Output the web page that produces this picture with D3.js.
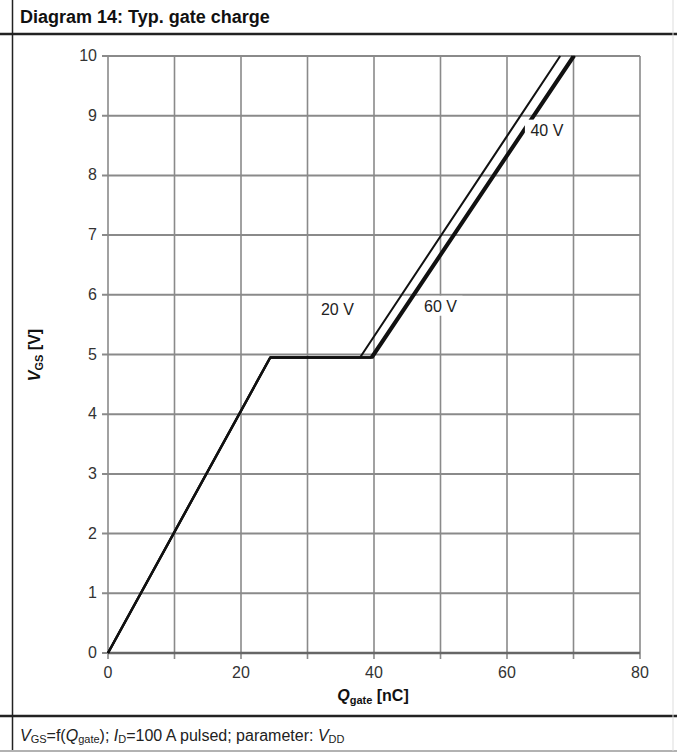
<!DOCTYPE html>
<html>
<head>
<meta charset="utf-8">
<script src="https://cdn.jsdelivr.net/npm/d3@7"></script>
<style>
  body { margin: 0; background: #fff; }
  svg { display: block; font-family: "Liberation Sans", Arial, sans-serif; }
</style>
</head>
<body>
<script>
//
// DATA
//
var xTicks = [0, 20, 40, 60, 80];
var yTicks = [0, 1, 2, 3, 4, 5, 6, 7, 8, 9, 10];
var xGrid = [10, 20, 30, 40, 50, 60, 70, 80];

// gate charge curves, Qgate [nC] vs VGS [V]
var q20 = [0, 24.4, 37.9, 68.0];
var v20 = [0, 4.95, 4.95, 10];
var q40 = [0, 24.4, 39.5, 69.9];
var v40 = [0, 4.95, 4.95, 10];
var q60 = [0, 24.4, 39.8, 70.2];
var v60 = [0, 4.95, 4.95, 10];

var labels = ["20 V", "40 V", "60 V"];
var labelQ = [34.5, 66.0, 50.0];
var labelV = [5.75, 8.75, 5.8];

//
// LAYOUT
//
var W = 677, H = 754;
var plotL = 108, plotR = 640, plotT = 56, plotB = 653;

var svg = d3.select("body").append("svg")
  .attr("width", W).attr("height", H);

var x = d3.scaleLinear().domain([0, 80]).range([plotL, plotR]);
var y = d3.scaleLinear().domain([0, 10]).range([plotB, plotT]);

// frame of the datasheet table
svg.append("line").attr("x1", 12.5).attr("x2", 12.5).attr("y1", 0).attr("y2", 750)
  .attr("stroke", "#222").attr("stroke-width", 1.5);
svg.append("line").attr("x1", 0).attr("x2", W).attr("y1", 34).attr("y2", 34)
  .attr("stroke", "#222").attr("stroke-width", 2.5);
svg.append("line").attr("x1", 0).attr("x2", W).attr("y1", 716).attr("y2", 716)
  .attr("stroke", "#222").attr("stroke-width", 2.5);
svg.append("line").attr("x1", 0).attr("x2", W).attr("y1", 751).attr("y2", 751)
  .attr("stroke", "#999").attr("stroke-width", 1.5);
svg.append("line").attr("x1", 673).attr("x2", 673).attr("y1", 0).attr("y2", 751)
  .attr("stroke", "#ddd").attr("stroke-width", 1);

// title
svg.append("text").attr("x", 20).attr("y", 23)
  .attr("font-size", 18).attr("font-weight", "bold").attr("fill", "#111")
  .text("Diagram 14: Typ. gate charge");

// grid
var grid = svg.append("g").attr("stroke", "#8a8a8a");
grid.selectAll(".gx").data(xGrid).enter().append("line")
  .attr("x1", function(d){ return x(d); }).attr("x2", function(d){ return x(d); })
  .attr("y1", plotT).attr("y2", plotB + 6)
  .attr("stroke-width", 1.6);
grid.selectAll(".gy").data(yTicks).enter().append("line")
  .attr("x1", plotL - 6).attr("x2", plotR)
  .attr("y1", function(d){ return y(d); }).attr("y2", function(d){ return y(d); })
  .attr("stroke-width", 2);
grid.append("line").attr("x1", plotL).attr("x2", plotL).attr("y1", plotT).attr("y2", plotB + 6)
  .attr("stroke-width", 1.6);
grid.append("line").attr("x1", plotL).attr("x2", plotR).attr("y1", plotB).attr("y2", plotB)
  .attr("stroke", "#666").attr("stroke-width", 2.5);

// tick labels
svg.selectAll(".yl").data(yTicks).enter().append("text")
  .attr("x", plotL - 11).attr("y", function(d){ return y(d) + 5; })
  .attr("text-anchor", "end").attr("font-size", 16).attr("fill", "#333")
  .text(function(d){ return d; });
svg.selectAll(".xl").data(xTicks).enter().append("text")
  .attr("x", function(d){ return x(d); }).attr("y", plotB + 25)
  .attr("text-anchor", "middle").attr("font-size", 16).attr("fill", "#333")
  .text(function(d){ return d; });

// curves
var line = d3.line().x(function(d){ return x(d[0]); }).y(function(d){ return y(d[1]); });
function pts(q, v){ return q.map(function(d, i){ return [d, v[i]]; }); }
var curves = [
  { p: pts(q20, v20), w: 2 },
  { p: pts(q40, v40), w: 2.4 },
  { p: pts(q60, v60), w: 2.4 }
];
svg.selectAll(".curve").data(curves).enter().append("path")
  .attr("d", function(d){ return line(d.p); })
  .attr("fill", "none").attr("stroke", "#111")
  .attr("stroke-width", function(d){ return d.w; })
  .attr("stroke-linejoin", "round");

// curve labels with white boxes
var lab = svg.selectAll(".lab").data(labels).enter().append("g")
  .attr("transform", function(d, i){ return "translate(" + x(labelQ[i]) + "," + y(labelV[i]) + ")"; });
lab.append("rect").attr("x", -22).attr("y", -11).attr("width", 44).attr("height", 20)
  .attr("fill", "#fff");
lab.append("text").attr("text-anchor", "middle").attr("y", 5)
  .attr("font-size", 16).attr("fill", "#222")
  .text(function(d){ return d; });

// axis titles
var yt = svg.append("text").attr("transform", "translate(40,355) rotate(-90)")
  .attr("text-anchor", "middle").attr("font-size", 16).attr("font-weight", "bold").attr("fill", "#111");
yt.append("tspan").attr("font-style", "italic").text("V");
yt.append("tspan").attr("font-size", 11).attr("dy", 3).text("GS");
yt.append("tspan").attr("dy", -3).text(" [V]");

var xt = svg.append("text").attr("x", 373).attr("y", 701)
  .attr("text-anchor", "middle").attr("font-size", 16).attr("font-weight", "bold").attr("fill", "#111");
xt.append("tspan").attr("font-style", "italic").text("Q");
xt.append("tspan").attr("font-size", 11).attr("dy", 3).text("gate");
xt.append("tspan").attr("dy", -3).text(" [nC]");

// caption
var cap = svg.append("text").attr("x", 20).attr("y", 741)
  .attr("font-size", 16).attr("fill", "#222");
cap.append("tspan").attr("font-style", "italic").text("V");
cap.append("tspan").attr("font-size", 11).attr("dy", 2).text("GS");
cap.append("tspan").attr("dy", -2).text("=f(");
cap.append("tspan").attr("font-style", "italic").text("Q");
cap.append("tspan").attr("font-size", 11).attr("dy", 2).text("gate");
cap.append("tspan").attr("dy", -2).text("); ");
cap.append("tspan").attr("font-style", "italic").text("I");
cap.append("tspan").attr("font-size", 11).attr("dy", 2).text("D");
cap.append("tspan").attr("dy", -2).text("=100 A pulsed; parameter: ");
cap.append("tspan").attr("font-style", "italic").text("V");
cap.append("tspan").attr("font-size", 11).attr("dy", 2).text("DD");
</script>
</body>
</html>
